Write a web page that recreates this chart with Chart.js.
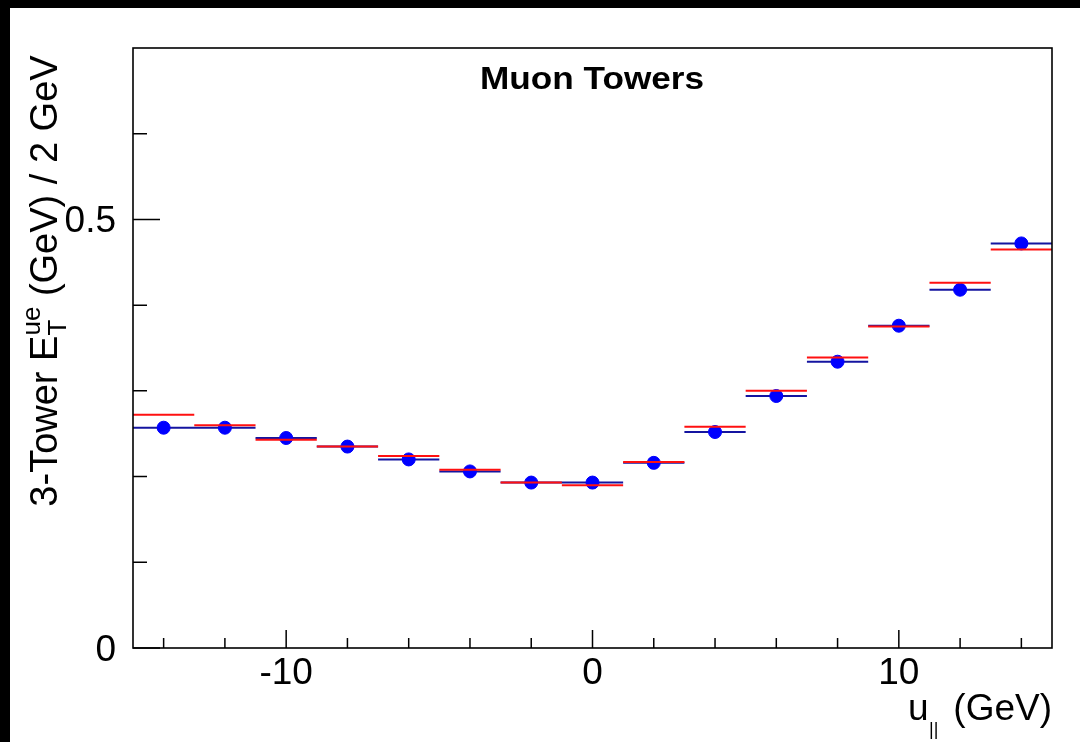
<!DOCTYPE html>
<html>
<head>
<meta charset="utf-8">
<script src="https://cdn.jsdelivr.net/npm/chart.js@4.4.1/dist/chart.umd.min.js"></script>
<style>
  html, body { margin: 0; padding: 0; background: #fff; }
  #wrap { width: 1080px; height: 742px; }
</style>
</head>
<body>
<div id="wrap"><canvas id="muonChart" width="1080" height="742"></canvas></div>
<script>
// bins of 2 GeV in u_parallel
const binCenters = [-14, -12, -10, -8, -6, -4, -2, 0, 2, 4, 6, 8, 10, 12, 14];
const binHalfWidth = 1;

// blue points (data) and red lines (simulation)
const dataValues = [0.257, 0.257, 0.245, 0.235, 0.220, 0.206, 0.193, 0.193, 0.216, 0.252, 0.294, 0.334, 0.376, 0.418, 0.472];
const mcValues   = [0.272, 0.260, 0.243, 0.235, 0.224, 0.208, 0.193, 0.190, 0.217, 0.258, 0.300, 0.339, 0.375, 0.426, 0.465];

const xMajorTicks = [-10, 0, 10];
const xMinorTicks = [-14, -12, -8, -6, -4, -2, 2, 4, 6, 8, 12, 14];
const xTickLabels = ['-10', '0', '10'];
const yMajorTicks = [0, 0.5];
const yMinorTicks = [0.1, 0.2, 0.3, 0.4, 0.6];
const yTickLabels = ['0', '0.5'];

const FONT = '"Liberation Sans", Arial, Helvetica, sans-serif';

// horizontal bin segments, separated by gaps
function binSegments(values) {
    const pts = [];
    values.forEach((v, i) => {
        pts.push({ x: binCenters[i] - binHalfWidth, y: v });
        pts.push({ x: binCenters[i] + binHalfWidth, y: v });
        pts.push({ x: binCenters[i] + binHalfWidth, y: null });
    });
    return pts;
}

function setFont(ctx, size, bold) {
    ctx.font = (bold ? 'bold ' : '') + size + 'px ' + FONT;
}

const rootStyle = {
    id: 'rootStyle',
    beforeDraw(chart) {
        const ctx = chart.ctx;
        ctx.save();
        ctx.fillStyle = '#fff';
        ctx.fillRect(0, 0, chart.width, chart.height);
        ctx.fillStyle = '#000';
        ctx.fillRect(0, 0, chart.width, 8);
        ctx.fillRect(0, 0, 10, chart.height);
        ctx.restore();
    },
    afterDraw(chart) {
        const ctx = chart.ctx;
        const area = chart.chartArea;
        const xs = chart.scales.x;
        const ys = chart.scales.y;

        ctx.save();
        ctx.strokeStyle = '#000';
        ctx.lineWidth = 1.6;
        ctx.strokeRect(area.left, area.top, area.right - area.left, area.bottom - area.top);

        // ticks point inwards
        ctx.lineWidth = 1.5;
        ctx.beginPath();
        xMajorTicks.forEach(v => {
            const px = xs.getPixelForValue(v);
            ctx.moveTo(px, area.bottom); ctx.lineTo(px, area.bottom - 18);
        });
        xMinorTicks.forEach(v => {
            const px = xs.getPixelForValue(v);
            ctx.moveTo(px, area.bottom); ctx.lineTo(px, area.bottom - 10);
        });
        yMajorTicks.forEach(v => {
            const py = ys.getPixelForValue(v);
            ctx.moveTo(area.left, py); ctx.lineTo(area.left + 27, py);
        });
        yMinorTicks.forEach(v => {
            const py = ys.getPixelForValue(v);
            ctx.moveTo(area.left, py); ctx.lineTo(area.left + 14, py);
        });
        ctx.stroke();

        ctx.fillStyle = '#000';
        ctx.textBaseline = 'alphabetic';

        // tick labels
        setFont(ctx, 37, false);
        ctx.textAlign = 'center';
        xMajorTicks.forEach((v, i) => {
            ctx.fillText(xTickLabels[i], xs.getPixelForValue(v), 684);
        });
        ctx.textAlign = 'right';
        yMajorTicks.forEach((v, i) => {
            ctx.fillText(yTickLabels[i], 116, ys.getPixelForValue(v) + 13);
        });

        // title
        ctx.save();
        ctx.translate(592, 89);
        ctx.scale(1.1, 1);
        setFont(ctx, 32, true);
        ctx.textAlign = 'center';
        ctx.fillText('Muon Towers', 0, 0);
        ctx.restore();

        // x axis title: u_|| (GeV)
        setFont(ctx, 37, false);
        ctx.textAlign = 'right';
        ctx.fillText('(GeV)', 1052, 720);
        ctx.textAlign = 'left';
        ctx.fillText('u', 908, 720);
        setFont(ctx, 18, false);
        ctx.fillText('||', 929, 735);

        // y axis title: 3-Tower E_T^ue (GeV) / 2 GeV
        ctx.save();
        ctx.translate(57, 281);
        ctx.rotate(-Math.PI / 2);
        ctx.textAlign = 'left';
        setFont(ctx, 38, false);
        const p1 = '3-Tower E';
        const p3 = ' (GeV) / 2 GeV';
        const w1 = ctx.measureText(p1).width;
        const w3 = ctx.measureText(p3).width;
        setFont(ctx, 26, false);
        const wb = Math.max(ctx.measureText('T').width, ctx.measureText('ue').width);
        const x0 = -(w1 + wb + w3) / 2;
        setFont(ctx, 38, false);
        ctx.fillText(p1, x0, 0);
        ctx.fillText(p3, x0 + w1 + wb, 0);
        setFont(ctx, 26, false);
        ctx.fillText('T', x0 + w1, 9);
        ctx.fillText('ue', x0 + w1, -17);
        ctx.restore();

        ctx.restore();
    }
};

new Chart(document.getElementById('muonChart'), {
    type: 'scatter',
    data: {
        datasets: [
            {
                label: 'MC',
                data: binSegments(mcValues),
                showLine: true,
                spanGaps: false,
                borderColor: '#ff1010',
                borderWidth: 2,
                pointRadius: 0,
                order: 0
            },
            {
                label: 'Data',
                data: binCenters.map((c, i) => ({ x: c, y: dataValues[i] })),
                showLine: false,
                pointRadius: 6.5,
                pointBorderWidth: 1,
                pointBackgroundColor: '#0000ff',
                pointBorderColor: '#0000ff',
                order: 1
            },
            {
                label: 'Data bins',
                data: binSegments(dataValues),
                showLine: true,
                spanGaps: false,
                borderColor: '#1414a0',
                borderWidth: 2,
                pointRadius: 0,
                order: 2
            }
        ]
    },
    options: {
        responsive: false,
        devicePixelRatio: 1,
        animation: false,
        layout: { padding: { left: 133, top: 48, right: 28, bottom: 94 } },
        plugins: {
            legend: { display: false },
            tooltip: { enabled: false }
        },
        scales: {
            x: { type: 'linear', min: -15, max: 15, display: false },
            y: { type: 'linear', min: 0, max: 0.7, display: false }
        }
    },
    plugins: [rootStyle]
});
</script>
</body>
</html>
